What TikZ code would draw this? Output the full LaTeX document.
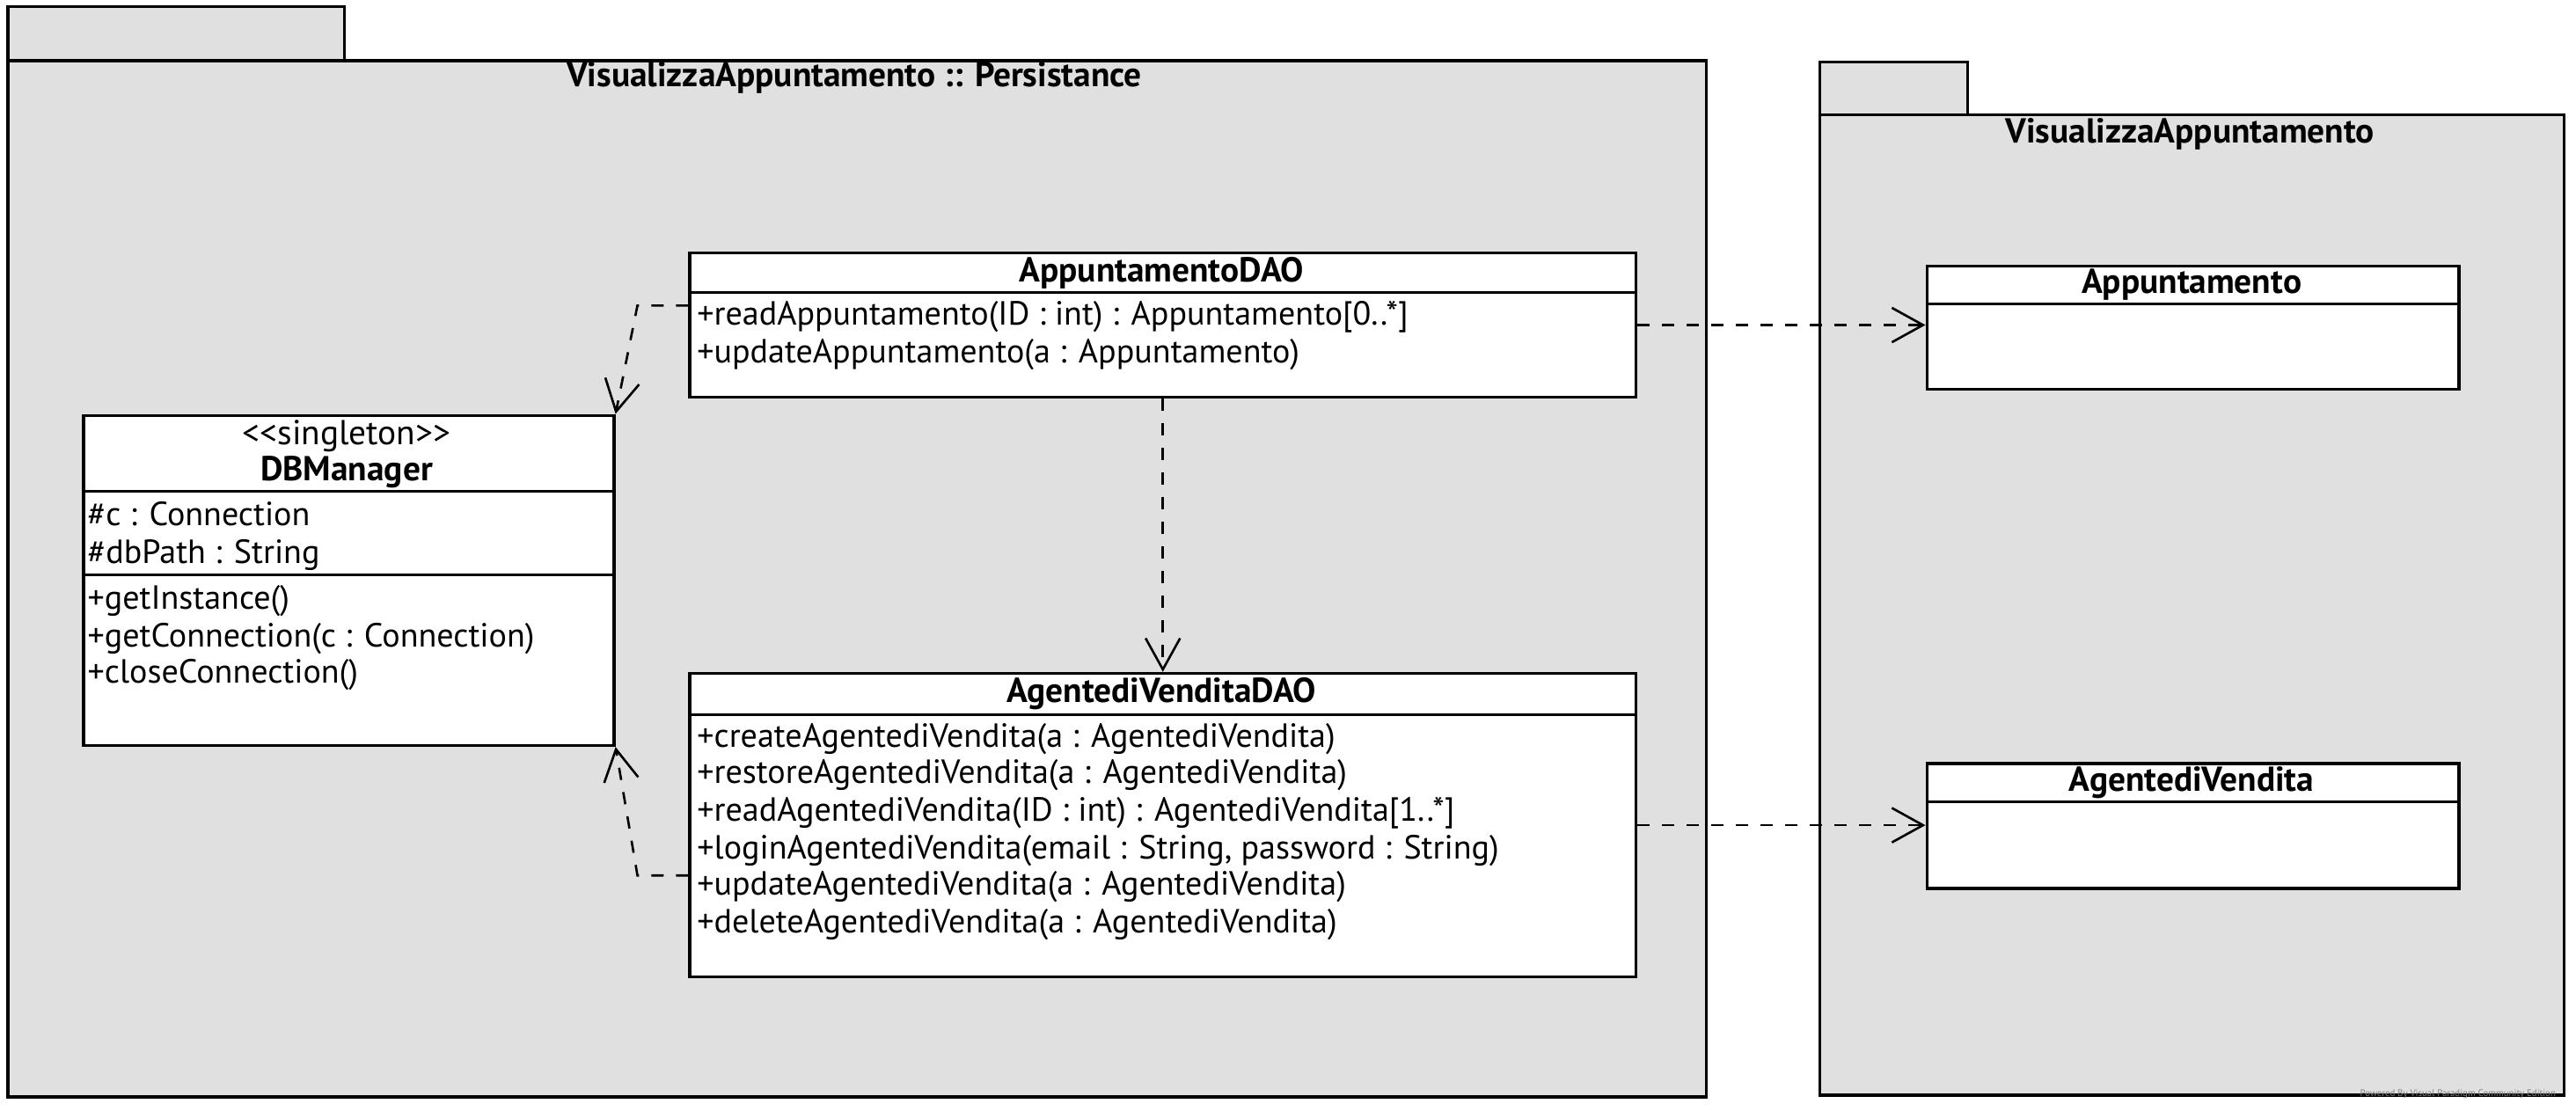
\documentclass[tikz,border=0pt]{standalone}
\usepackage{fontspec}
\setmainfont{PT Sans}
\usetikzlibrary{arrows.meta}
\definecolor{pkggray}{HTML}{E0E0E0}
\begin{document}
\begin{tikzpicture}[x=0.02cm, y=-0.02cm]
\tikzstyle{pkg} = [rectangle, draw = black, line width = 1pt, fill = pkggray, anchor = north west, inner sep = 0pt]
\tikzstyle{cls} = [rectangle, draw = black, line width = 1pt, fill = white, anchor = north west, inner sep = 0pt]
\tikzstyle{title} = [inner sep = 0pt, text height = 2.0ex, text depth = 0.45ex, font = \bfseries\fontsize{12}{14}\selectfont]
\tikzstyle{member} = [anchor = west, inner sep = 0pt, text height = 2.0ex, text depth = 0.45ex, font = \fontsize{11.6}{14}\selectfont]
\tikzstyle{arrow} = [line width = 0.8pt, dash pattern = on 0.15cm off 0.15cm, -{Straight Barb[length = 0.38cm, width = 0.42cm, line width = 0.8pt]}]
\useasboundingbox (0,0) rectangle (1568,676);
% packages
\node[pkg, minimum width = 4.1cm, minimum height = 0.66cm](persistTab) at (4,3){};
\node[pkg, minimum width = 20.68cm, minimum height = 12.62cm](persist) at (4,36){};
\node[title](persistName) at (520,46){VisualizzaAppuntamento :: Persistance};
\node[pkg, minimum width = 1.8cm, minimum height = 0.64cm](modelTab) at (1107,37){};
\node[pkg, minimum width = 9.06cm, minimum height = 11.94cm](model) at (1107,69){};
\node[title](modelName) at (1333,80){VisualizzaAppuntamento};
% AppuntamentoDAO
\node[cls, minimum width = 11.52cm, minimum height = 1.76cm](apDAO) at (419,153){};
\draw[line width = 1pt] (419,178) -- (995,178);
\node[title](apDAOName) at (707,165){AppuntamentoDAO};
\node[member](apDAO1) at (424,191){+readAppuntamento(ID : int) : Appuntamento[0..*]};
\node[member](apDAO2) at (424,214){+updateAppuntamento(a : Appuntamento)};
% DBManager
\node[cls, minimum width = 6.46cm, minimum height = 4.02cm](dbm) at (50,252){};
\draw[line width = 1pt] (50,299) -- (373,299);
\draw[line width = 1pt] (50,350) -- (373,350);
\node[title, font = \fontsize{12}{14}\selectfont](dbmStereo) at (211,264){<{}<singleton>{}>};
\node[title](dbmName) at (211,286){DBManager};
\node[member](dbm1) at (53,313){\#c : Connection};
\node[member](dbm2) at (53,336){\#dbPath : String};
\node[member](dbm3) at (53,364){+getInstance()};
\node[member](dbm4) at (53,387){+getConnection(c : Connection)};
\node[member](dbm5) at (53,409){+closeConnection()};
% AgentediVenditaDAO
\node[cls, minimum width = 11.52cm, minimum height = 3.7cm](agDAO) at (419,409){};
\draw[line width = 1pt] (419,435) -- (995,435);
\node[title](agDAOName) at (707,421){AgentediVenditaDAO};
\node[member](agDAO1) at (424,448){+createAgentediVendita(a : AgentediVendita)};
\node[member](agDAO2) at (424,470){+restoreAgentediVendita(a : AgentediVendita)};
\node[member](agDAO3) at (424,493){+readAgentediVendita(ID : int) : AgentediVendita[1..*]};
\node[member](agDAO4) at (424,516){+loginAgentediVendita(email : String, password : String)};
\node[member](agDAO5) at (424,538){+updateAgentediVendita(a : AgentediVendita)};
\node[member](agDAO6) at (424,561){+deleteAgentediVendita(a : AgentediVendita)};
% entity classes
\node[cls, minimum width = 6.48cm, minimum height = 1.5cm](app) at (1172,161){};
\draw[line width = 1pt] (1172,185) -- (1496,185);
\node[title](appName) at (1334,172){Appuntamento};
\node[cls, minimum width = 6.48cm, minimum height = 1.52cm](agv) at (1172,464){};
\draw[line width = 1pt] (1172,488) -- (1496,488);
\node[title](agvName) at (1334,475){AgentediVendita};
% dependencies
\draw[arrow] (apDAO.east)--(apDAO.east -| app.west);
\draw[arrow] (agDAO.east)--(agDAO.east -| agv.west);
\draw[arrow] (apDAO.south)--(agDAO.north);
\draw[arrow] ([yshift = -0.66cm]apDAO.north west)--++(-0.62cm,0)--(dbm.north east);
\draw[arrow] ([yshift = -2.48cm]agDAO.north west)--++(-0.62cm,0)--(dbm.south east);
\node[anchor = east, inner sep = 0pt, text = gray, font = \fontsize{3.3}{4}\selectfont](watermark) at (1556,666){Powered By Visual Paradigm Community Edition};
\end{tikzpicture}
\end{document}
